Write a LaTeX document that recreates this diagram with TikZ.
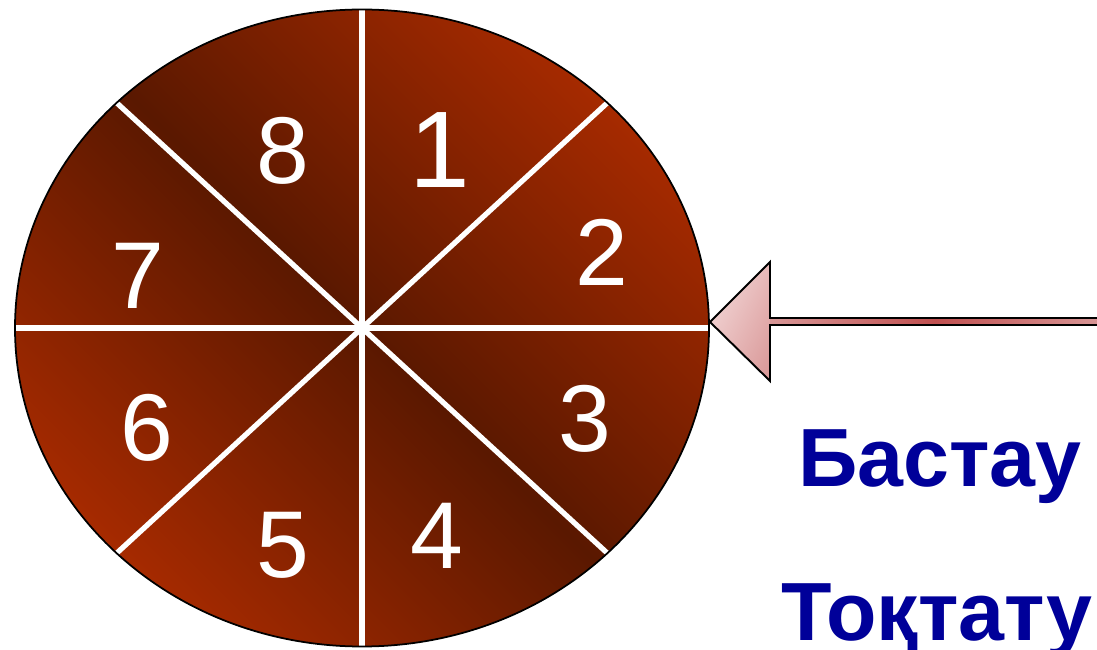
\documentclass[tikz,border=0pt]{standalone}
\usepackage{fontspec}
\setmainfont{Liberation Sans}
\usetikzlibrary{shadings}
\definecolor{wheeldark}{RGB}{90,24,0}
\definecolor{wheellight}{RGB}{166,42,0}
\definecolor{arrowpale}{RGB}{245,224,224}
\definecolor{arrowmid}{RGB}{232,186,186}
\definecolor{arrowpink}{RGB}{216,150,150}
\definecolor{arrowred}{RGB}{192,80,80}
\definecolor{wordblue}{RGB}{0,0,153}

\begin{document}
\begin{tikzpicture}[x=0.02cm, y=0.02cm,
  numtext/.style={text=white, inner sep=0pt, font=\fontsize{54}{54}\selectfont},
  cmdtext/.style={text=wordblue, inner sep=0pt, anchor=base, font=\bfseries\fontsize{47}{47}\selectfont}]
  \useasboundingbox (0,0) rectangle (1097,649);
  \coordinate (c) at (362,321);

  % Wheel, shaded along the diagonal
  \begin{scope}
    \clip (c) ellipse [x radius=347, y radius=318.5];
    \begin{scope}[transform canvas={rotate around={45:(c)}}]
      \shade[left color=wheellight, right color=wheellight, middle color=wheeldark]
        (29,-159) rectangle (695,801);
    \end{scope}
    % Spokes
    \foreach \a in {0,45,...,315}
      \draw[white, line width=3pt] (c) -- +(\a:347 and 318.5);
  \end{scope}
  \draw[line width=1pt] (c) ellipse [x radius=347, y radius=318.5];

  % Sector numbers
  \node[numtext, font=\fontsize{62}{62}\selectfont] (n1) at (440,499) {1};
  \foreach \n/\x/\y in {2/602/397, 3/585/230, 4/437/113,
                        5/283/104, 6/147/221, 7/138/373, 8/283/498}
    \node[numtext] (n\n) at (\x,\y) {\n};

  % Pointer arrow
  \coordinate (tip) at (710,327);
  \shade[upper left=arrowpale, upper right=arrowmid, lower left=arrowmid, lower right=arrowpink]
    (tip) -- (770,387) -- (770,268) -- cycle;
  \shade[left color=arrowpink, right color=arrowpink, middle color=arrowred]
    (770,324) rectangle (1100,331);
  \draw[line width=1.1pt] (1100,331) -- (770,331) -- (770,387) -- (tip)
    -- (770,268) -- (770,324) -- (1100,324);

  % Commands
  \node[cmdtext] (start) at (940,163) {Бастау};
  \node[cmdtext] (stop) at (937,9) {Тоқтату};
\end{tikzpicture}
\end{document}
